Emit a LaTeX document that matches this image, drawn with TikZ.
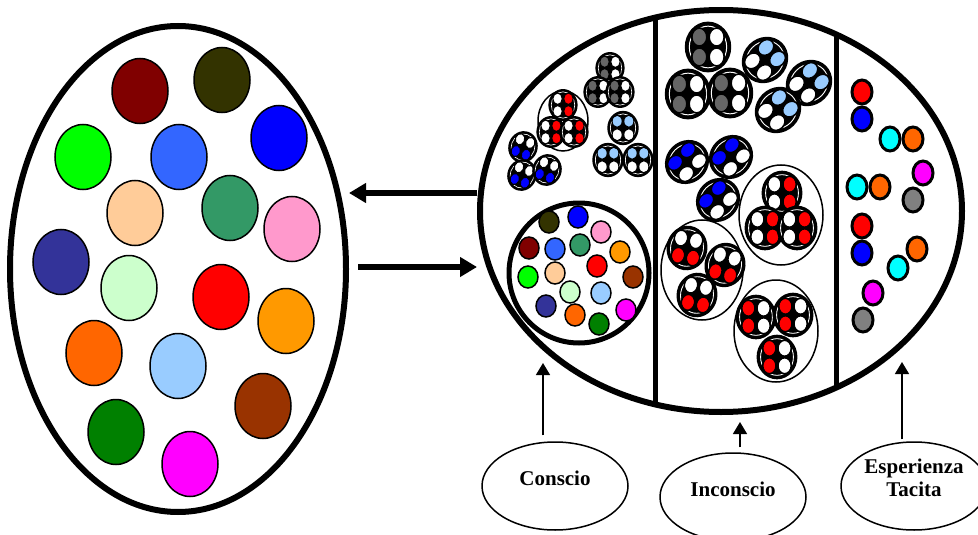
\documentclass[tikz,border=0pt]{standalone}
\usepackage{fontspec}
\setmainfont{Liberation Serif}
\usetikzlibrary{shapes.geometric,arrows.meta}
\definecolor{bordeaux}{HTML}{800000}
\definecolor{oliva}{HTML}{333300}
\definecolor{verdechiaro}{HTML}{00FF00}
\definecolor{azzurro}{HTML}{3366FF}
\definecolor{blu}{HTML}{0000FF}
\definecolor{pesca}{HTML}{FFCC99}
\definecolor{verdemare}{HTML}{339966}
\definecolor{rosa}{HTML}{FF99CC}
\definecolor{indaco}{HTML}{333399}
\definecolor{menta}{HTML}{CCFFCC}
\definecolor{rosso}{HTML}{FF0000}
\definecolor{arancio}{HTML}{FF9900}
\definecolor{arancioscuro}{HTML}{FF6600}
\definecolor{celeste}{HTML}{99CCFF}
\definecolor{marrone}{HTML}{993300}
\definecolor{verdescuro}{HTML}{008000}
\definecolor{fucsia}{HTML}{FF00FF}
\definecolor{ciano}{HTML}{00FFFF}
\definecolor{grigio}{HTML}{808080}
\definecolor{grigioscuro}{HTML}{666666}
\tikzstyle{freccia} = [line width=6pt, -{Triangle[length=17pt,width=19pt]}]
\tikzstyle{freccina} = [line width=1.5pt, -{Triangle[length=12pt,width=14pt]}]
\tikzstyle{etichetta} = [ellipse, draw=black, line width=1.5pt, minimum width=146, minimum height=88, inner sep=0pt, align=center, text depth=16pt, font=\fontsize{21}{23}\selectfont\bfseries]
\tikzstyle{pallino} = [draw=black, line width=1.5pt]
\tikzstyle{coppia} = [draw=black, line width=3pt]
% una cellula con quattro puntini: x, y, scala, rotazione, colori (as, ad, bs, bd)
\newcommand{\cella}[8]{%
  \begin{scope}[shift={(#1,#2)}, rotate=#4, scale=#3]
    \filldraw[fill=black, line width=#3*3pt] (0,0) ellipse (20 and 22);
    \draw[white, line width=#3*0.9pt] (0,0) ellipse (17.3 and 19.3);
    \filldraw[fill=#5, line width=#3*1.6pt] (-8,-9.2) ellipse (7 and 8.4);
    \filldraw[fill=#6, line width=#3*1.6pt] (8,-9.2) ellipse (7 and 8.4);
    \filldraw[fill=#7, line width=#3*1.6pt] (-8,9.2) ellipse (7 and 8.4);
    \filldraw[fill=#8, line width=#3*1.6pt] (8,9.2) ellipse (7 and 8.4);
  \end{scope}}

\begin{document}
\begin{tikzpicture}[x=1pt, y=-1pt]
    \useasboundingbox (0,0) rectangle (978,535);

    % insieme delle esperienze
    \node (esperienze) [ellipse, draw=black, line width=6pt, minimum width=336, minimum height=486, inner sep=0pt] at (178,269) {};
    \foreach \x/\y/\c in {140/91/bordeaux, 222/80/oliva, 83/157/verdechiaro, 179/157/azzurro, 279/138/blu,
        135/213/pesca, 230/208/verdemare, 292/229/rosa, 61/262/indaco, 129/288/menta, 221/297/rosso,
        286/321/arancio, 94/353/arancioscuro, 178/366/celeste, 263/406/marrone, 116/432/verdescuro, 190/464/fucsia}
        \filldraw[pallino, fill=\c] (\x,\y) ellipse (28 and 32.5);

    % la mente
    \node (mente) [ellipse, draw=black, line width=6pt, minimum width=482, minimum height=402, inner sep=0pt] at (721,211) {};
    \begin{scope}
        \clip (721,211) ellipse (241 and 201);
        \draw[line width=5pt] (655,0) -- (655,420);
        \draw[line width=5pt] (836,0) -- (836,420);
    \end{scope}

    \coordinate (o1) at (0,193);
    \coordinate (o2) at (0,267);
    \draw[freccia] (mente.west |- o1) -- (esperienze.east |- o1);
    \draw[freccia, shorten <=9pt] (esperienze.east |- o2) -- (mente.west |- o2);

    % conscio
    \node (insieme) [circle, draw=black, line width=5pt, minimum size=140, inner sep=0pt] at (579,273) {};
    \foreach \x/\y/\c in {549/222/oliva, 578/217/blu, 601/232/rosa, 529/248/bordeaux, 555/249/azzurro,
        580/245/verdemare, 620/252/arancio, 597/266/rosso, 528/277/verdechiaro, 555/273/pesca,
        633/277/marrone, 570/292/menta, 601/293/celeste, 546/306/indaco, 575/315/arancioscuro,
        626/310/fucsia, 599/324/verdescuro}
        \filldraw[pallino, fill=\c] (\x,\y) ellipse (10 and 11);

    \cella{610}{68}{0.68}{0}{grigioscuro}{white}{grigioscuro}{white}
    \cella{598}{92}{0.68}{0}{grigioscuro}{white}{grigioscuro}{white}
    \cella{620}{92}{0.68}{0}{grigioscuro}{white}{grigioscuro}{white}
    \draw[line width=1.5pt] (563,121) ellipse (25 and 30);
    \cella{563}{105}{0.68}{0}{white}{rosso}{white}{rosso}
    \cella{551}{132}{0.68}{0}{white}{rosso}{white}{rosso}
    \cella{574}{132}{0.68}{0}{white}{rosso}{white}{rosso}
    \cella{623}{128}{0.73}{0}{celeste}{celeste}{white}{white}
    \cella{608}{160}{0.73}{0}{celeste}{celeste}{white}{white}
    \cella{638}{160}{0.73}{0}{celeste}{celeste}{white}{white}
    \cella{523}{147}{0.68}{-20}{white}{white}{blu}{blu}
    \cella{522}{175}{0.68}{-20}{white}{white}{blu}{blu}
    \cella{547}{170}{0.68}{-20}{white}{white}{blu}{blu}

    % inconscio
    \cella{708}{47}{1.08}{0}{grigioscuro}{white}{grigioscuro}{white}
    \cella{688}{94}{1.08}{0}{grigioscuro}{white}{grigioscuro}{white}
    \cella{730}{93}{1.08}{0}{grigioscuro}{white}{grigioscuro}{white}
    \cella{765}{60}{1.03}{-45}{celeste}{celeste}{white}{white}
    \cella{809}{83}{1.03}{-45}{celeste}{celeste}{white}{white}
    \cella{778}{110}{1.03}{-45}{celeste}{celeste}{white}{white}
    \cella{687}{162}{0.98}{-45}{blu}{white}{blu}{white}
    \cella{731}{157}{0.98}{-45}{blu}{white}{blu}{white}
    \cella{718}{200}{0.98}{-45}{blu}{white}{blu}{white}
    \draw[line width=1.5pt] (781,215) ellipse (42 and 50);
    \cella{782}{193}{0.95}{0}{white}{rosso}{white}{rosso}
    \cella{765}{228}{0.95}{0}{white}{rosso}{white}{rosso}
    \cella{797}{228}{0.95}{0}{white}{rosso}{white}{rosso}
    \draw[line width=1.5pt] (702,270) ellipse (41 and 50);
    \cella{687}{248}{0.95}{-10}{white}{white}{rosso}{rosso}
    \cella{725}{265}{0.95}{-15}{white}{white}{rosso}{rosso}
    \cella{697}{295}{0.95}{-10}{white}{white}{rosso}{rosso}
    \draw[line width=1.5pt] (776,331) ellipse (42 and 51);
    \cella{756}{317}{0.95}{0}{rosso}{white}{rosso}{white}
    \cella{793}{315}{0.95}{0}{rosso}{white}{rosso}{white}
    \cella{777}{357}{0.95}{0}{rosso}{white}{rosso}{white}

    % esperienza tacita
    \foreach \x/\y/\c in {862/92/rosso, 862/119/blu, 890/139/ciano, 913/139/arancioscuro, 923/173/fucsia,
        913/200/grigio, 857/187/ciano, 880/187/arancioscuro, 862/226/rosso, 862/253/blu,
        917/249/arancioscuro, 898/268/ciano, 873/293/fucsia, 863/320/grigio}
        \filldraw[coppia, fill=\c] (\x,\y) ellipse (10 and 12);

    % etichette
    \node (conscio) [etichetta] at (555,486) {Conscio};
    \node (inconscio) [etichetta] at (733,497) {Inconscio};
    \node (tacita) [etichetta] at (914,486) {Esperienza\\Tacita};

    \coordinate (p1) at (543,363);
    \coordinate (p2) at (740,422);
    \coordinate (p3) at (902,362);
    \draw[freccina] (conscio.north -| p1) ++(0,-6) -- (p1);
    \draw[freccina] (inconscio.north -| p2) ++(0,-5) -- (p2);
    \draw[freccina] (tacita.north -| p3) ++(0,-2) -- (p3);

\end{tikzpicture}
\end{document}
